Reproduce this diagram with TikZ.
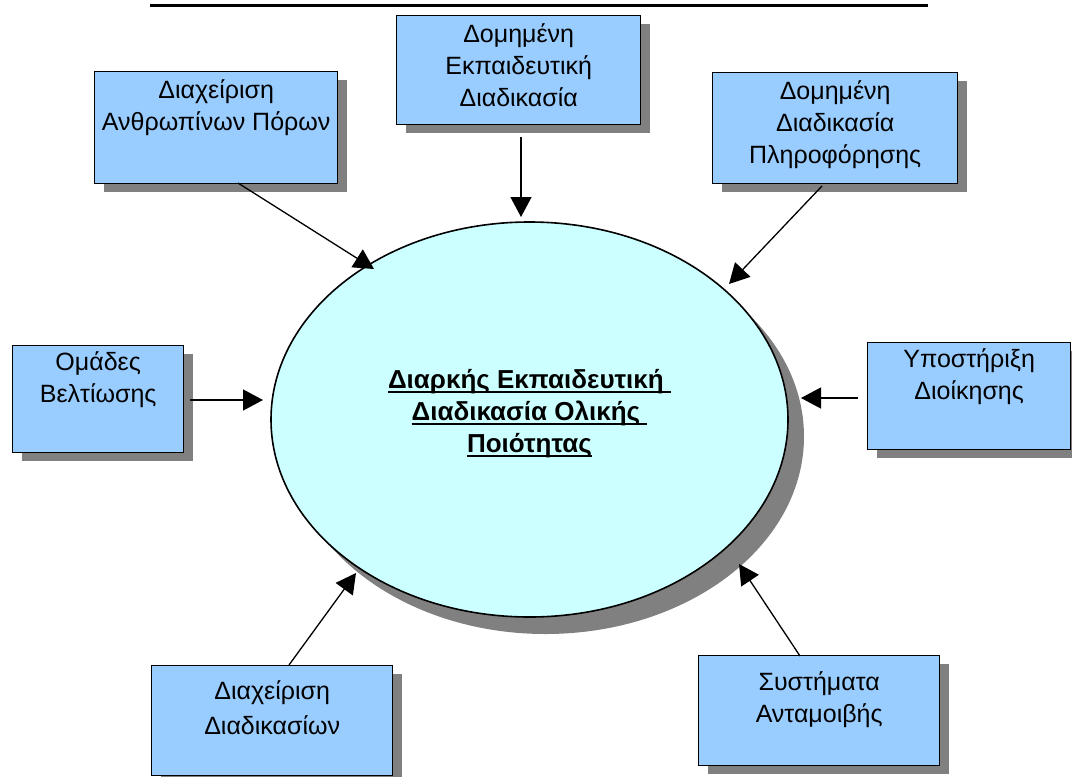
\documentclass[tikz,border=0pt]{standalone}
\usepackage{fontspec}
\setmainfont{Liberation Sans}
\usetikzlibrary{arrows.meta,shapes.geometric,shadows}

\definecolor{boxblue}{HTML}{99CCFF}
\definecolor{ovalcyan}{HTML}{CCFFFF}
\definecolor{shadowgray}{HTML}{808080}

% top-aligned, centred box text: [first baseline], width, height, lines
\newcommand\boxlines[4][27pt]{\parbox[c][#3][t]{#2}{\centering\rule{0pt}{#1}#4}}
% underline that also covers trailing spaces
\newcommand\ulined[1]{\setbox0\hbox{#1}\rlap{\rule[-4pt]{\wd0}{1.6pt}}\box0}

\begin{document}
\begin{tikzpicture}[x=1pt,y=-1pt,
  every node/.style={font=\fontsize{25}{32}\selectfont},
  factor/.style={draw=black, line width=1.4pt, fill=boxblue, inner sep=0pt,
    anchor=north west,
    drop shadow={shadow xshift=9pt, shadow yshift=-8pt, fill=shadowgray, opacity=1}},
  core/.style={ellipse, draw=black, line width=1.6pt, fill=ovalcyan, inner sep=0pt,
    drop shadow={shadow xshift=16pt, shadow yshift=-17pt, fill=shadowgray, opacity=1}},
  arr/.style={-{Triangle[length=20pt,width=21pt]}, line width=1.3pt}]

\useasboundingbox (0,0) rectangle (1072,777);
\clip (0,0) rectangle (1072,777);

% heading rule at the top edge
\coordinate (hl) at (150,5);
\coordinate (hr) at (928,5);
\draw[line width=3pt] (hl) -- (hr);

% central ellipse
\node[core, minimum width=517pt, minimum height=395pt] (qual) at (529.5,419.5) {};
\node[font=\fontsize{26}{32}\selectfont\bfseries, align=center, inner sep=0pt] (qualtext) at (529.5,414)
  {\ulined{Διαρκής Εκπαιδευτική\ }\\\ulined{Διαδικασία Ολικής\ }\\\ulined{Ποιότητας}};

% surrounding factors
\node[factor] (hr-box) at (94,71) {\boxlines{243pt}{112pt}{Διαχείριση\\Ανθρωπίνων Πόρων}};
\node[factor] (edu-box) at (396,15) {\boxlines{244pt}{109pt}{Δομημένη\\Εκπαιδευτική\\Διαδικασία}};
\node[factor] (info-box) at (712,72) {\boxlines{245pt}{111pt}{Δομημένη\\Διαδικασία\\Πληροφόρησης}};
\node[factor] (team-box) at (12,345) {\boxlines[25pt]{171pt}{107pt}{Ομάδες\\Βελτίωσης}};
\node[factor] (mgmt-box) at (867,342) {\boxlines[25pt]{203pt}{107pt}{Υποστήριξη\\Διοίκησης}};
\node[factor] (proc-box) at (151,665) {\boxlines[34pt]{241pt}{110pt}{Διαχείριση\\[3pt]Διαδικασίων}};
\node[factor] (rew-box) at (698,655) {\boxlines[35pt]{241pt}{110pt}{Συστήματα\\Ανταμοιβής}};

% connector end points
\coordinate (hr-out) at (238,183);   \coordinate (hr-in) at (374,269);
\coordinate (edu-out) at (521,137);  \coordinate (edu-in) at (521,217);
\coordinate (info-out) at (822,186); \coordinate (info-in) at (729,284);
\coordinate (team-out) at (190,400); \coordinate (team-in) at (263,400);
\coordinate (mgmt-out) at (858,398); \coordinate (mgmt-in) at (801,398);
\coordinate (proc-out) at (289,665); \coordinate (proc-in) at (356,573);
\coordinate (rew-out) at (800,656);  \coordinate (rew-in) at (739,564);

\draw[arr] (hr-out) -- (hr-in);
\draw[arr] (edu-out) -- (edu-in);
\draw[arr] (info-out) -- (info-in);
\draw[arr] (team-out) -- (team-in);
\draw[arr] (mgmt-out) -- (mgmt-in);
\draw[arr] (proc-out) -- (proc-in);
\draw[arr] (rew-out) -- (rew-in);
\end{tikzpicture}
\end{document}
